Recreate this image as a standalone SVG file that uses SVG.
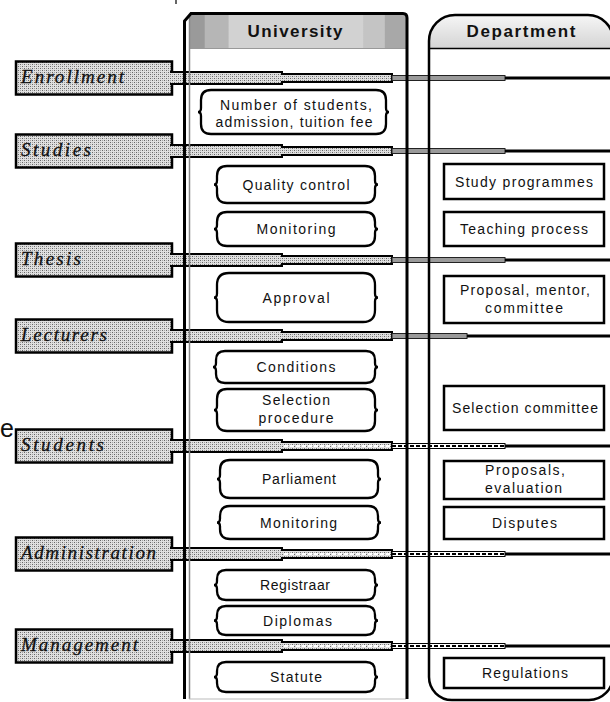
<svg xmlns="http://www.w3.org/2000/svg" width="610" height="702" viewBox="0 0 610 702">
<defs>
<pattern id="st" width="4" height="4" patternUnits="userSpaceOnUse"><rect width="4" height="4" fill="#e0e0e0"/><rect width="1" height="1" fill="#666"/><rect x="2" y="2" width="1" height="1" fill="#666"/><rect x="2" y="0" width="1" height="1" fill="#a4a4a4"/><rect x="0" y="2" width="1" height="1" fill="#a4a4a4"/></pattern>
<linearGradient id="uh" x1="0" y1="0" x2="1" y2="0">
<stop offset="0" stop-color="#9a9a9a"/><stop offset="0.07" stop-color="#9a9a9a"/><stop offset="0.075" stop-color="#b6b6b6"/><stop offset="0.18" stop-color="#b6b6b6"/><stop offset="0.185" stop-color="#d2d2d2"/><stop offset="0.8" stop-color="#d2d2d2"/><stop offset="0.805" stop-color="#c4c4c4"/><stop offset="0.9" stop-color="#c4c4c4"/><stop offset="0.905" stop-color="#a8a8a8"/><stop offset="1" stop-color="#a8a8a8"/>
</linearGradient>
<linearGradient id="dh" x1="0" y1="0" x2="0" y2="1"><stop offset="0" stop-color="#f6f6f6"/><stop offset="1" stop-color="#d4d4d4"/></linearGradient>
<style>
.lab{fill:url(#st);stroke:#000;stroke-width:2.5}
.lt{font-family:"Liberation Serif",serif;font-style:italic;font-size:19px;fill:#111;stroke:#111;stroke-width:0.3}
.band{fill:url(#st);stroke:#000;stroke-width:2}
.gb{fill:#9a9a9a;stroke:#222;stroke-width:1}
.bl{stroke:#000;stroke-width:3}
.un{fill:#fff;stroke:#000;stroke-width:2.3}
.dn{fill:#fff;stroke:#000;stroke-width:2.5}
.t{font-family:"Liberation Sans",Arial,sans-serif;font-size:14px;fill:#111;text-anchor:middle}
.h{font-family:"Liberation Sans",Arial,sans-serif;font-size:17px;font-weight:bold;fill:#111;text-anchor:middle}
.fr{fill:none;stroke:#000;stroke-width:3}
</style>
</defs>
<rect width="610" height="702" fill="#fff"/>
<text x="0" y="437" font-family="Liberation Sans, sans-serif" font-size="25" fill="#111">e</text>
<path d="M176,0 V4" stroke="#333" stroke-width="1.5"/>

<g id="label-enrollment"><rect class="lab" x="16" y="61.5" width="156" height="33"/><text class="lt" x="21" y="83" textLength="103" lengthAdjust="spacing">Enrollment</text></g>
<g id="label-studies"><rect class="lab" x="16" y="134.5" width="156" height="33"/><text class="lt" x="21" y="156" textLength="70" lengthAdjust="spacing">Studies</text></g>
<g id="label-thesis"><rect class="lab" x="16" y="243.5" width="156" height="33"/><text class="lt" x="21" y="265" textLength="60" lengthAdjust="spacing">Thesis</text></g>
<g id="label-lecturers"><rect class="lab" x="16" y="319.5" width="156" height="33"/><text class="lt" x="21" y="341" textLength="86" lengthAdjust="spacing">Lecturers</text></g>
<g id="label-students"><rect class="lab" x="16" y="429.5" width="156" height="33"/><text class="lt" x="21" y="451" textLength="83" lengthAdjust="spacing">Students</text></g>
<g id="label-administration"><rect class="lab" x="16" y="537.5" width="156" height="33"/><text class="lt" x="21" y="559" textLength="135" lengthAdjust="spacing">Administration</text></g>
<g id="label-management"><rect class="lab" x="16" y="629.5" width="156" height="33"/><text class="lt" x="21" y="651" textLength="117" lengthAdjust="spacing">Management</text></g>

<g id="connectors">
<path class="band" d="M170,72 H282 V74 H392 V82 H282 V84 H170"/><rect class="gb" x="392" y="75.5" width="113" height="5"/><line class="bl" x1="505" y1="78" x2="612" y2="78"/>
<path class="band" d="M170,145 H282 V147 H392 V155 H282 V157 H170"/><rect class="gb" x="392" y="148.5" width="113" height="5"/><line class="bl" x1="505" y1="151" x2="612" y2="151"/>
<path class="band" d="M170,254 H282 V256 H392 V264 H282 V266 H170"/><rect class="gb" x="392" y="257.5" width="113" height="5"/><line class="bl" x1="505" y1="260" x2="612" y2="260"/>
<path class="band" d="M170,330 H282 V332 H392 V340 H282 V342 H170"/><rect class="gb" x="392" y="333.5" width="75" height="5"/><line class="bl" x1="467" y1="336" x2="612" y2="336"/>
<path class="band" d="M170,440 H282 V442 H392 V450 H282 V452 H170"/><line x1="284" y1="446" x2="390" y2="446" stroke="#fff" stroke-width="2" stroke-dasharray="4 2"/><rect x="392" y="443.5" width="113" height="5" fill="#fff" stroke="#000" stroke-width="1"/><line x1="392" y1="446" x2="505" y2="446" stroke="#000" stroke-width="2" stroke-dasharray="4 2"/><line class="bl" x1="505" y1="446" x2="612" y2="446"/>
<path class="band" d="M170,548 H282 V550 H392 V558 H282 V560 H170"/><line x1="284" y1="554" x2="390" y2="554" stroke="#fff" stroke-width="2" stroke-dasharray="4 2"/><rect x="392" y="551.5" width="113" height="5" fill="#fff" stroke="#000" stroke-width="1"/><line x1="392" y1="554" x2="505" y2="554" stroke="#000" stroke-width="2" stroke-dasharray="4 2"/><line class="bl" x1="505" y1="554" x2="612" y2="554"/>
<path class="band" d="M170,640 H282 V642 H392 V650 H282 V652 H170"/><line x1="284" y1="646" x2="390" y2="646" stroke="#fff" stroke-width="2" stroke-dasharray="4 2"/><rect x="392" y="643.5" width="113" height="5" fill="#fff" stroke="#000" stroke-width="1"/><line x1="392" y1="646" x2="505" y2="646" stroke="#000" stroke-width="2" stroke-dasharray="4 2"/><line class="bl" x1="505" y1="646" x2="612" y2="646"/>
</g>

<g id="col-university">
<rect x="189" y="15" width="217" height="33" fill="url(#uh)"/>
<line x1="189" y1="48.5" x2="406" y2="48.5" stroke="#999" stroke-width="1"/>
<line x1="189.5" y1="15" x2="189.5" y2="699" stroke="#888" stroke-width="1.5"/>
<line x1="189" y1="699" x2="406" y2="699" stroke="#bbb" stroke-width="1"/>
<path class="fr" d="M184.5,699 V21 L191,13.5 H403 Q407,13.5 407,18 V699"/>
<text class="h" x="295" y="37" textLength="95" lengthAdjust="spacing">University</text>
</g>

<g id="col-department">
<path d="M429,48 V41 A26,26 0 0 1 455,15 H588 A25,25 0 0 1 613,40 V48 Z" fill="url(#dh)"/>
<line x1="429" y1="48.5" x2="613" y2="48.5" stroke="#000" stroke-width="1.5"/>
<path d="M455,15 H588 A25,25 0 0 1 613,40 V676 A24,24 0 0 1 589,700 H452 A23,23 0 0 1 429,677 V41 A26,26 0 0 1 455,15 Z" fill="none" stroke="#000" stroke-width="2.5"/>
<text class="h" x="521" y="37" textLength="109" lengthAdjust="spacing">Department</text>
</g>

<g id="u-number"><path class="un" d="M211,90 H376 Q386,90 386,100 V108 Q386,112 389,112 Q386,112 386,116 V124 Q386,134 376,134 H211 Q201,134 201,124 V116 Q201,112 198,112 Q201,112 201,108 V100 Q201,90 211,90 Z"/><text class="t" x="296" y="110" textLength="152" lengthAdjust="spacing">Number of students,</text><text class="t" x="294" y="127" textLength="157" lengthAdjust="spacing">admission, tuition fee</text></g>
<g id="u-quality"><path class="un" d="M227,166 H365 Q375,166 375,176 V180.5 Q375,184.5 378,184.5 Q375,184.5 375,188.5 V193 Q375,203 365,203 H227 Q217,203 217,193 V188.5 Q217,184.5 214,184.5 Q217,184.5 217,180.5 V176 Q217,166 227,166 Z"/><text class="t" x="296" y="189.5" textLength="107" lengthAdjust="spacing">Quality control</text></g>
<g id="u-monitoring1"><path class="un" d="M227,212 H365 Q375,212 375,222 V225 Q375,229 378,229 Q375,229 375,233 V236 Q375,246 365,246 H227 Q217,246 217,236 V233 Q217,229 214,229 Q217,229 217,225 V222 Q217,212 227,212 Z"/><text class="t" x="296" y="234" textLength="79" lengthAdjust="spacing">Monitoring</text></g>
<g id="u-approval"><path class="un" d="M229,273 H363 Q375,273 375,285 V293.5 Q375,297.5 378,297.5 Q375,297.5 375,301.5 V310 Q375,322 363,322 H229 Q217,322 217,310 V301.5 Q217,297.5 214,297.5 Q217,297.5 217,293.5 V285 Q217,273 229,273 Z"/><text class="t" x="296" y="302.5" textLength="67" lengthAdjust="spacing">Approval</text></g>
<g id="u-conditions"><path class="un" d="M225,351 H366 Q375,351 375,360 V363 Q375,367 378,367 Q375,367 375,371 V374 Q375,383 366,383 H225 Q216,383 216,374 V371 Q216,367 213,367 Q216,367 216,363 V360 Q216,351 225,351 Z"/><text class="t" x="296" y="372" textLength="79" lengthAdjust="spacing">Conditions</text></g>
<g id="u-selection"><path class="un" d="M227,389 H365 Q375,389 375,399 V406 Q375,410 378,410 Q375,410 375,414 V421 Q375,431 365,431 H227 Q217,431 217,421 V414 Q217,410 214,410 Q217,410 217,406 V399 Q217,389 227,389 Z"/><text class="t" x="296" y="405" textLength="68" lengthAdjust="spacing">Selection</text><text class="t" x="296" y="423" textLength="75" lengthAdjust="spacing">procedure</text></g>
<g id="u-parliament"><path class="un" d="M230,460 H368 Q378,460 378,470 V475 Q378,479 381,479 Q378,479 378,483 V488 Q378,498 368,498 H230 Q220,498 220,488 V483 Q220,479 217,479 Q220,479 220,475 V470 Q220,460 230,460 Z"/><text class="t" x="299" y="484" textLength="74" lengthAdjust="spacing">Parliament</text></g>
<g id="u-monitoring2"><path class="un" d="M230,506 H368 Q378,506 378,516 V518.5 Q378,522.5 381,522.5 Q378,522.5 378,526.5 V529 Q378,539 368,539 H230 Q220,539 220,529 V526.5 Q220,522.5 217,522.5 Q220,522.5 220,518.5 V516 Q220,506 230,506 Z"/><text class="t" x="298.5" y="527.5" textLength="77" lengthAdjust="spacing">Monitoring</text></g>
<g id="u-registraar"><path class="un" d="M226,570 H366 Q375,570 375,579 V581 Q375,585 378,585 Q375,585 375,589 V591 Q375,600 366,600 H226 Q217,600 217,591 V589 Q217,585 214,585 Q217,585 217,581 V579 Q217,570 226,570 Z"/><text class="t" x="295" y="590" textLength="70" lengthAdjust="spacing">Registraar</text></g>
<g id="u-diplomas"><path class="un" d="M226,606 H366 Q375,606 375,615 V616.5 Q375,620.5 378,620.5 Q375,620.5 375,624.5 V626 Q375,635 366,635 H226 Q217,635 217,626 V624.5 Q217,620.5 214,620.5 Q217,620.5 217,616.5 V615 Q217,606 226,606 Z"/><text class="t" x="297.5" y="625.5" textLength="69" lengthAdjust="spacing">Diplomas</text></g>
<g id="u-statute"><path class="un" d="M226,662 H366 Q375,662 375,671 V673 Q375,677 378,677 Q375,677 375,681 V683 Q375,692 366,692 H226 Q217,692 217,683 V681 Q217,677 214,677 Q217,677 217,673 V671 Q217,662 226,662 Z"/><text class="t" x="296" y="682" textLength="52" lengthAdjust="spacing">Statute</text></g>

<g id="d-study"><rect class="dn" x="444" y="164" width="160" height="35"/><text class="t" x="524" y="186.5" textLength="138" lengthAdjust="spacing">Study programmes</text></g>
<g id="d-teaching"><rect class="dn" x="444" y="212" width="160" height="34"/><text class="t" x="524" y="234" textLength="128" lengthAdjust="spacing">Teaching process</text></g>
<g id="d-proposal"><rect class="dn" x="444" y="276" width="160" height="47"/><text class="t" x="525" y="295" textLength="130" lengthAdjust="spacing">Proposal, mentor,</text><text class="t" x="524" y="313" textLength="78" lengthAdjust="spacing">committee</text></g>
<g id="d-selection"><rect class="dn" x="444" y="386" width="160" height="44"/><text class="t" x="525" y="412.5" textLength="146" lengthAdjust="spacing">Selection committee</text></g>
<g id="d-proposals"><rect class="dn" x="444" y="461" width="160" height="38"/><text class="t" x="525" y="475" textLength="80" lengthAdjust="spacing">Proposals,</text><text class="t" x="523.5" y="493" textLength="77" lengthAdjust="spacing">evaluation</text></g>
<g id="d-disputes"><rect class="dn" x="444" y="507" width="160" height="32"/><text class="t" x="524.5" y="527.5" textLength="65" lengthAdjust="spacing">Disputes</text></g>
<g id="d-regulations"><rect class="dn" x="444" y="658" width="160" height="30"/><text class="t" x="525" y="678" textLength="86" lengthAdjust="spacing">Regulations</text></g>
</svg>
